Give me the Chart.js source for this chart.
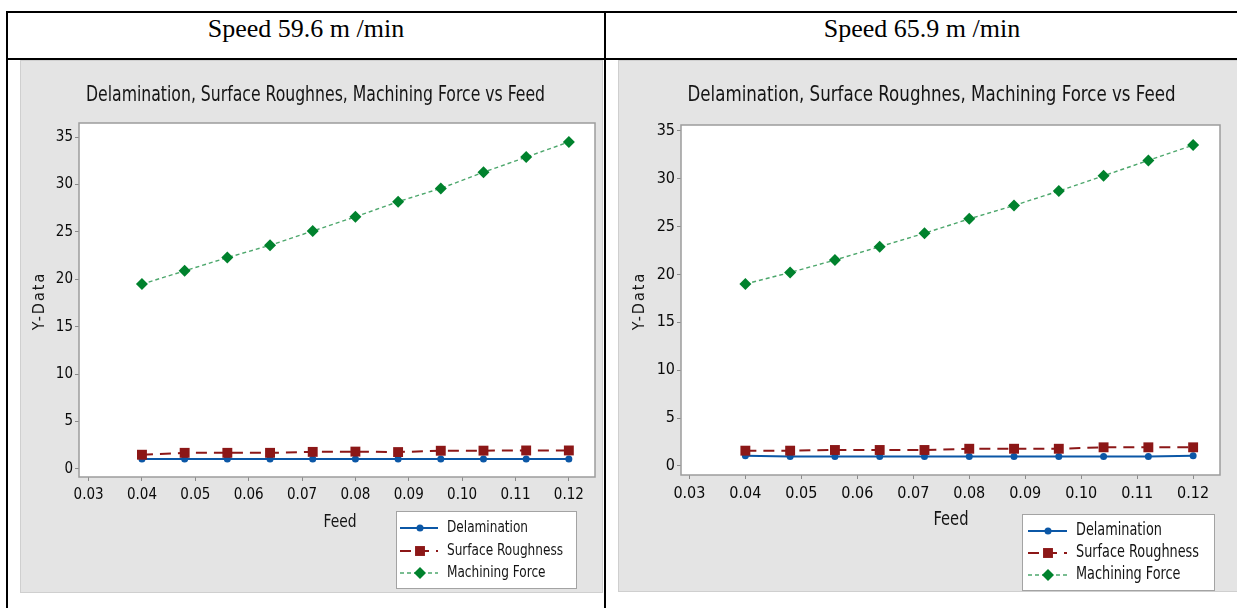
<!DOCTYPE html>
<html lang="en">
<head>
<meta charset="UTF-8">
<title>Delamination, Surface Roughness, Machining Force vs Feed</title>
<script src="https://cdn.jsdelivr.net/npm/chart.js"></script>
<style>
*{margin:0;padding:0;box-sizing:border-box;}
body{background:#fff;width:1237px;height:608px;overflow:hidden;position:relative;}
.rule{position:absolute;background:#000;}
.head{position:absolute;top:6px;height:45px;display:flex;align-items:center;justify-content:center;
font-family:'Liberation Serif','Times New Roman',serif;font-size:26px;color:#000;}
.panel{position:absolute;background:#e4e4e4;border:1px solid #cfcfcf;}
.panel canvas{position:absolute;left:0;top:0;}
</style>
</head>
<body>

<div class="rule" style="left:6px;top:11px;width:1240px;height:2px"></div>
<div class="rule" style="left:6px;top:58px;width:1240px;height:2px"></div>
<div class="rule" style="left:6px;top:11px;width:2px;height:600px"></div>
<div class="rule" style="left:604px;top:11px;width:2px;height:600px"></div>

<div class="head" id="head1" style="left:8px;width:596px"></div>
<div class="head" id="head2" style="left:606px;width:632px"></div>

<div class="panel" style="left:20px;top:60px;width:583px;height:533px">
<canvas id="chart1" width="581" height="531"></canvas>
</div>
<div class="panel" style="left:618px;top:60px;width:622px;height:532px">
<canvas id="chart2" width="618" height="530"></canvas>
</div>

<script>
// data
const HEADERS=["Speed 59.6 m /min","Speed 65.9 m /min"];
const TITLE="Delamination, Surface Roughnes, Machining Force vs Feed";
const SERIES=["Delamination","Surface Roughness","Machining Force"];
const FEED=[0.04,0.048,0.056,0.064,0.072,0.08,0.088,0.096,0.104,0.112,0.12];
const X_TICKS=[0.03,0.04,0.05,0.06,0.07,0.08,0.09,0.10,0.11,0.12];
const Y_TICKS=[0,5,10,15,20,25,30,35];

// speed 59.6 m/min
const delam1=[1.05,1.05,1.05,1.05,1.05,1.05,1.05,1.05,1.05,1.05,1.05];
const rough1=[1.5,1.7,1.7,1.7,1.8,1.83,1.78,1.92,1.93,1.95,1.95];
const force1=[19.5,20.9,22.3,23.6,25.1,26.6,28.2,29.6,31.3,32.9,34.5];

// speed 65.9 m/min
const delam2=[1.08,0.98,0.98,0.98,0.98,0.98,0.98,0.98,0.98,0.98,1.06];
const rough2=[1.6,1.6,1.67,1.67,1.67,1.8,1.8,1.8,1.95,1.95,1.95];
const force2=[19.0,20.2,21.5,22.9,24.3,25.8,27.2,28.7,30.3,31.9,33.5];

const FONT="'Liberation Sans Narrow','DejaVu Sans Condensed','Arial Narrow',sans-serif";
const BLUE='#0b57a6', RED='#8c1717', GREEN='#00822d';

const LAYOUTS={
chart1:{top:62,right:1,yw:58,xh:115,xmin:0.0282,xmax:0.1249,ymin:-0.85,ymax:36.5,tick:15,
 title:{x:294.5,y:35,size:21,w:459},ylab:{x:19,y:240,size:16},xlab:{x:319,y:461,size:18,w:33},
 legend:{x:375,y:450,w:181,h:78,x0:4,x1:42,mx:24,tx:51,rows:[17,40,62],size:16,sw:116}},
chart2:{top:64,right:17,yw:62,xh:116,xmin:0.0285,xmax:0.1248,ymin:-0.94,ymax:35.6,tick:16,
 title:{x:312.5,y:34,size:22,w:488},ylab:{x:21,y:240,size:16},xlab:{x:332,y:459,size:19,w:35},
 legend:{x:403,y:453,w:193,h:77,x0:6,x1:45,mx:26,tx:54,rows:[17,39,61],size:17,sw:123}}
};

// draw text squeezed sideways so it fills the width of the original narrow font
function squeezeText(ctx,text,x,y,size,k,align){
ctx.save();
ctx.font=`${size}px ${FONT}`;
ctx.translate(x,y);
ctx.scale(k,1);
ctx.textAlign=align;
ctx.fillText(text,0,0);
ctx.restore();
}
function squeezeFor(ctx,text,size,target){
ctx.font=`${size}px ${FONT}`;
return Math.min(1,target/ctx.measureText(text).width);
}

const decor={
id:'decor',
beforeDraw(chart){
const {ctx,chartArea:a}=chart;
ctx.save();
ctx.fillStyle='#fff';
ctx.fillRect(a.left,a.top,a.width,a.height);
ctx.restore();
},
beforeDatasetsDraw(chart){
const {ctx,chartArea:a}=chart;
ctx.save();
ctx.strokeStyle='#9c9c9c';
ctx.lineWidth=1.5;
ctx.strokeRect(a.left,a.top,a.width,a.height);
ctx.restore();
},
afterDraw(chart){
const ctx=chart.ctx;
const lay=LAYOUTS[chart.canvas.id];
ctx.save();
ctx.fillStyle='#141414';
ctx.textBaseline='middle';
const t=lay.title;
squeezeText(ctx,TITLE,t.x,t.y,t.size,squeezeFor(ctx,TITLE,t.size,t.w),'center');
const f=lay.xlab;
squeezeText(ctx,"Feed",f.x,f.y,f.size,squeezeFor(ctx,"Feed",f.size,f.w),'center');

ctx.save();
ctx.translate(lay.ylab.x,lay.ylab.y);
ctx.rotate(-Math.PI/2);
ctx.font=`${lay.ylab.size}px ${FONT}`;
ctx.letterSpacing='2px';
ctx.textAlign='center';
ctx.fillText("Y-Data",0,0);
ctx.restore();

// legend box
const L=lay.legend;
ctx.fillStyle='#fff';
ctx.fillRect(L.x,L.y,L.w,L.h);
ctx.strokeStyle='#a3a3a3';
ctx.lineWidth=1;
ctx.strokeRect(L.x+0.5,L.y+0.5,L.w-1,L.h-1);
const k=squeezeFor(ctx,SERIES[1],L.size,L.sw);
chart.data.datasets.forEach((d,i)=>{
const y=L.y+L.rows[i];
ctx.save();
ctx.strokeStyle=d.borderColor;
ctx.lineWidth=d.borderWidth;
ctx.setLineDash(d.borderDash||[]);
ctx.beginPath();
ctx.moveTo(L.x+L.x0,y);
ctx.lineTo(L.x+L.x1,y);
ctx.stroke();
ctx.restore();
ctx.fillStyle=d.pointBackgroundColor;
Chart.helpers.drawPoint(ctx,{pointStyle:d.pointStyle,radius:d.pointRadius,rotation:0,borderWidth:0},L.x+L.mx,y);
ctx.fillStyle='#141414';
squeezeText(ctx,d.label,L.x+L.tx,y,L.size,k,'left');
});
ctx.restore();
}
};

function points(vals){
return FEED.map((x,i)=>({x:x,y:vals[i]}));
}

function createChart(id,delam,rough,force){
const lay=LAYOUTS[id];
return new Chart(document.getElementById(id),{
type:'line',
data:{datasets:[
{label:SERIES[0],data:points(delam),order:2,borderColor:BLUE,borderWidth:2,
 pointStyle:'circle',pointRadius:3.5,pointBackgroundColor:BLUE,pointBorderWidth:0},
{label:SERIES[1],data:points(rough),order:1,borderColor:RED,borderWidth:2,borderDash:[11,7],
 pointStyle:'rect',pointRadius:7,pointBackgroundColor:RED,pointBorderWidth:0},
{label:SERIES[2],data:points(force),order:3,borderColor:'rgba(0,130,45,0.7)',borderWidth:1.4,borderDash:[4,3],
 pointStyle:'rectRot',pointRadius:6,pointBackgroundColor:GREEN,pointBorderWidth:0}
]},
options:{
responsive:false,
animation:false,
events:[],
layout:{padding:{left:0,top:lay.top,right:lay.right,bottom:0}},
plugins:{legend:{display:false},title:{display:false},tooltip:{enabled:false}},
scales:{
x:{type:'linear',min:lay.xmin,max:lay.xmax,
 afterFit:s=>{s.height=lay.xh;},
 afterBuildTicks:s=>{s.ticks=X_TICKS.map(v=>({value:v}));},
 grid:{drawOnChartArea:false,tickLength:4,color:'#8a8a8a'},
 border:{display:false},
 ticks:{color:'#0a0a0a',font:{family:FONT,size:lay.tick},padding:5,maxRotation:0,autoSkip:false,
  callback:v=>v.toFixed(2)}},
y:{type:'linear',min:lay.ymin,max:lay.ymax,
 afterFit:s=>{s.width=lay.yw;},
 afterBuildTicks:s=>{s.ticks=Y_TICKS.map(v=>({value:v}));},
 grid:{drawOnChartArea:false,tickLength:4,color:'#8a8a8a'},
 border:{display:false},
 ticks:{color:'#0a0a0a',font:{family:FONT,size:lay.tick},padding:2,autoSkip:false}}
}
},
plugins:[decor]
});
}

document.getElementById("head1").textContent=HEADERS[0];
document.getElementById("head2").textContent=HEADERS[1];
createChart("chart1",delam1,rough1,force1);
createChart("chart2",delam2,rough2,force2);
</script>

</body>
</html>
